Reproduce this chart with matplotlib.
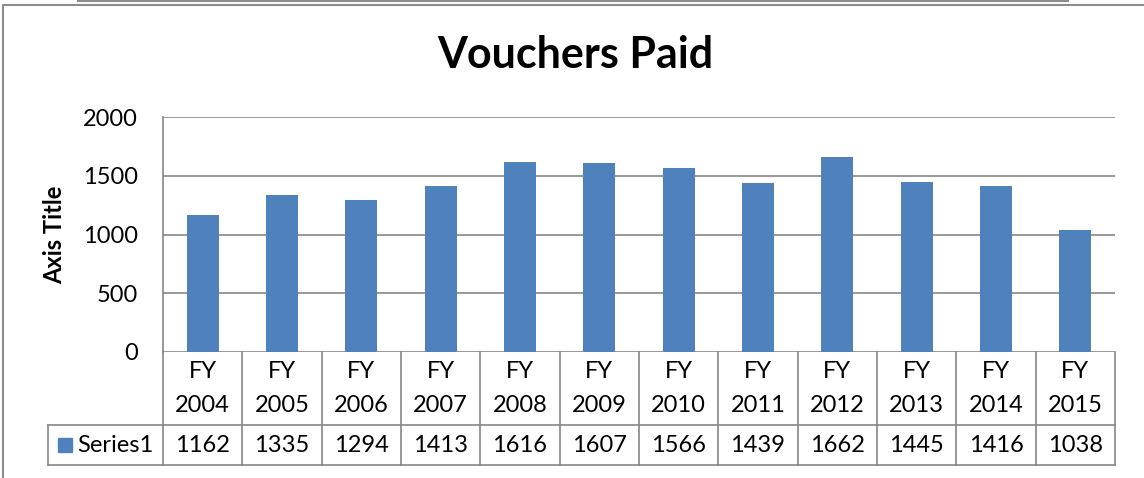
import matplotlib.pyplot as plt
from matplotlib.lines import Line2D
from matplotlib.patches import Rectangle
from matplotlib.transforms import blended_transform_factory

plt.rcParams['font.family'] = ['Lato', 'DejaVu Sans']

years = ["2004", "2005", "2006", "2007", "2008", "2009",
         "2010", "2011", "2012", "2013", "2014", "2015"]
vouchers = [1162, 1335, 1294, 1413, 1616, 1607, 1566, 1439, 1662, 1445, 1416, 1038]
series_name = "Series1"
yticks = [0, 500, 1000, 1500, 2000]

W, H = 1144, 478
BLUE = "#4F81BD"
GRID = "#868686"


def fx(px):
    return px / W


def fy(py):
    return 1 - py / H


fig = plt.figure(figsize=(W / 100, H / 100), dpi=100)

# outer chart frame and the line of the box above it
fig.add_artist(Line2D([fx(3), fx(3), fx(1150)], [fy(480), fy(4.5), fy(4.5)], color="#8c8c8c", lw=1.5))
fig.add_artist(Line2D([fx(78), fx(1068)], [fy(0.5), fy(0.5)], color="#8c8c8c", lw=1.5))

left, right, top, zero = 163, 1115, 117, 352
ax = fig.add_axes([fx(left), fy(zero), fx(right - left), (zero - top) / H])

x = list(range(len(years)))
ax.bar(x, vouchers, width=0.4, color=BLUE, zorder=3)
ax.set_xlim(-0.5, len(years) - 0.5)
ax.set_ylim(0, 2000)
ax.set_yticks(yticks)
ax.set_xticks([])
ax.grid(axis="y", color=GRID, lw=1.2)
ax.tick_params(axis="y", length=0, pad=18, labelsize=17)
for s in ["top", "right", "bottom"]:
    ax.spines[s].set_visible(False)
ax.spines["left"].set_color(GRID)
ax.spines["left"].set_linewidth(1.2)

fig.text(fx(575), fy(55), "Vouchers Paid", ha="center", va="center",
         fontsize=31, fontweight="bold")
fig.text(fx(55), fy(235), "Axis Title", ha="center", va="center",
         rotation=90, fontsize=17, fontweight="bold")

# data table below the plot
row1, row2 = 425, 465
h = zero - top
ya = lambda py: (zero - py) / h
tr = blended_transform_factory(ax.transData, ax.transAxes)
lc = dict(color=GRID, lw=1.2, clip_on=False, transform=tr)
xmin, xmax = -0.5, len(years) - 0.5
series_left = xmin + (48 - left) / ((right - left) / len(years))
ax.plot([xmin, xmax], [ya(row1), ya(row1)], **lc)
ax.plot([series_left, xmax], [ya(row2), ya(row2)], **lc)
ax.plot([series_left, xmin], [ya(row1), ya(row1)], **lc)
ax.plot([series_left, series_left], [ya(row1), ya(row2)], **lc)
for i in range(len(years) + 1):
    ax.plot([i - 0.5, i - 0.5], [0, ya(row2)], **lc)

for i, (yr, v) in enumerate(zip(years, vouchers)):
    ax.text(i, ya(372), "FY", transform=tr, ha="center", va="center", fontsize=17)
    ax.text(i, ya(405), yr, transform=tr, ha="center", va="center", fontsize=17)
    ax.text(i, ya(446), str(v), transform=tr, ha="center", va="center", fontsize=17)

fig.add_artist(Rectangle((fx(58), fy(452)), fx(14), 14 / H, color=BLUE))
fig.text(fx(77), fy(446), series_name, ha="left", va="center", fontsize=17)

fig.savefig("out.png", dpi=100)
